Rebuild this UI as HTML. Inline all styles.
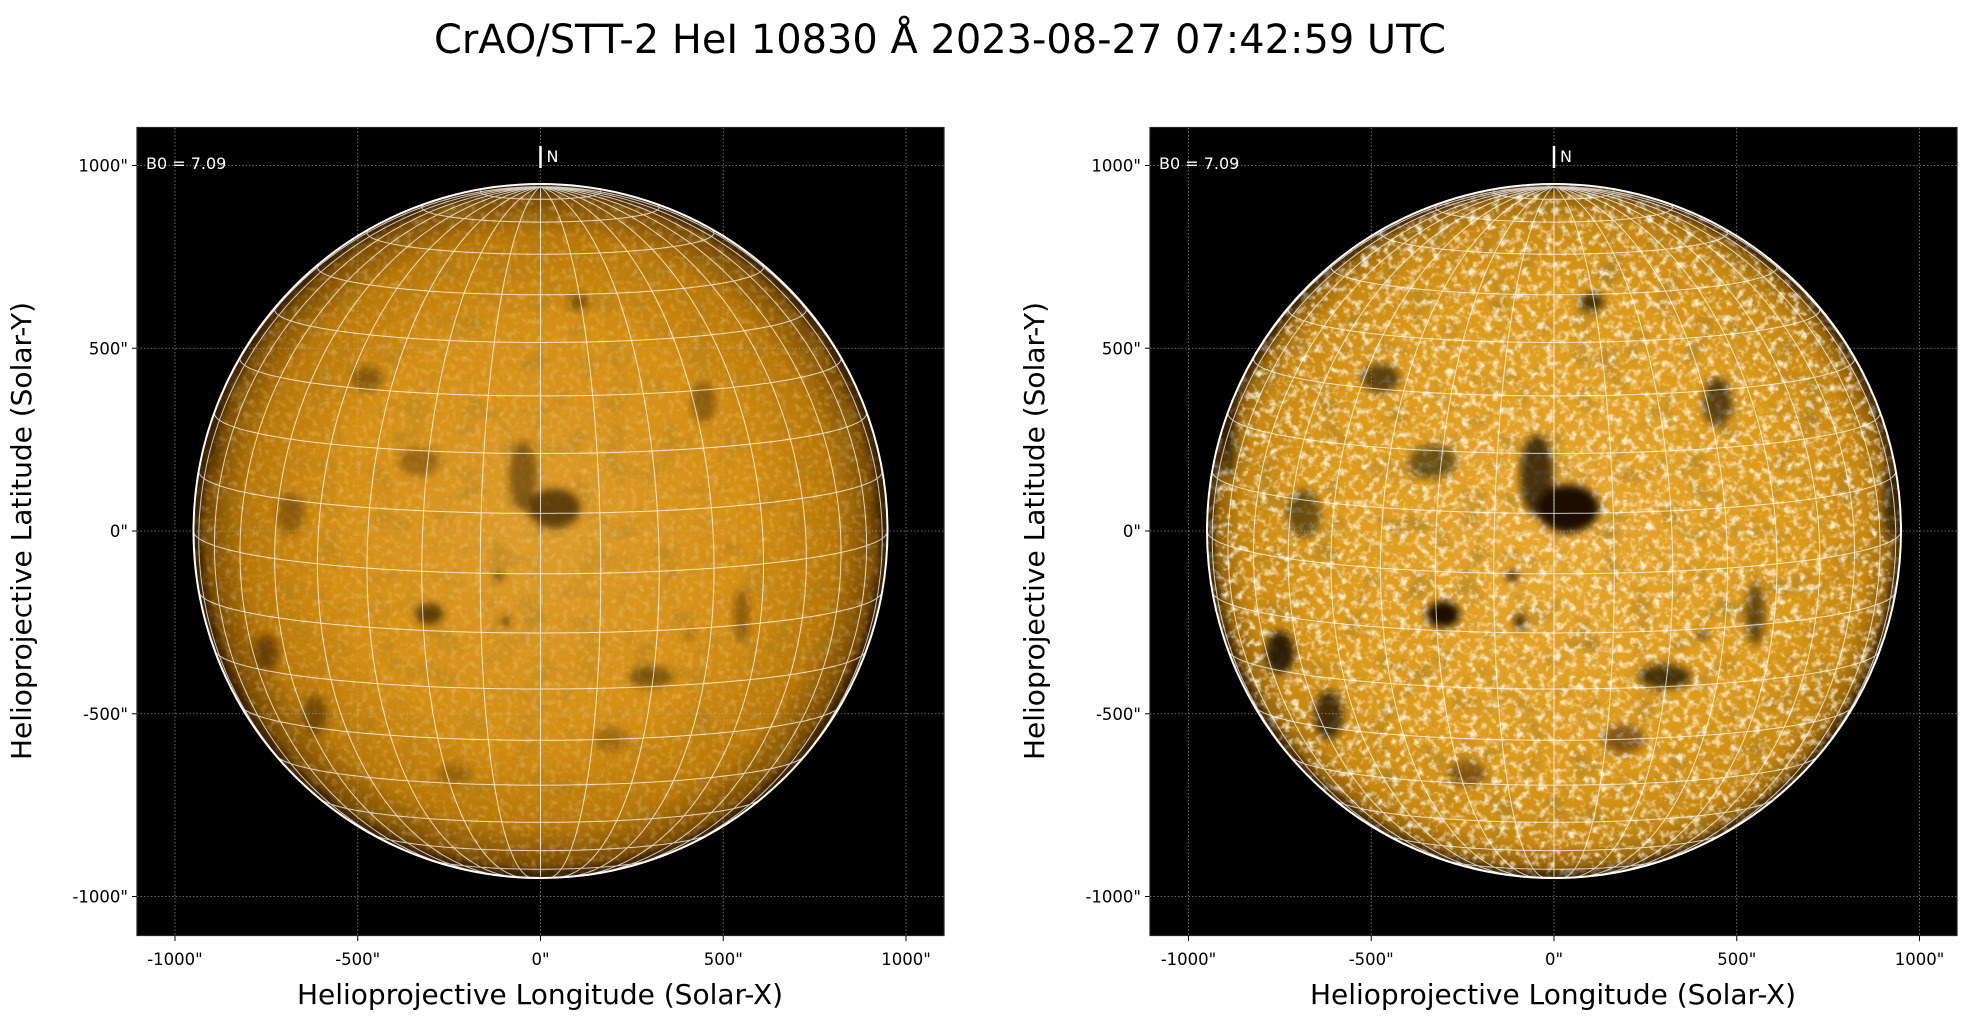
<!DOCTYPE html>
<html><head><meta charset="utf-8"><style>
html,body{margin:0;padding:0;background:#fff;}
svg{display:block;font-family:"DejaVu Sans","Liberation Sans",sans-serif;}
</style></head><body>
<svg id="s" width="1971" height="1026" viewBox="0 0 1971 1026" xmlns="http://www.w3.org/2000/svg">
<defs>
<filter id="noiseL" x="0" y="0" width="100%" height="100%">
<feTurbulence type="fractalNoise" baseFrequency="0.16" numOctaves="2" seed="3"/>
<feColorMatrix type="matrix" values="0 0 0 0 1  0 0 0 0 0.8  0 0 0 0 0.45  1.6 0 0 0 -0.75"/>
</filter>
<filter id="noiseR" x="0" y="0" width="100%" height="100%">
<feTurbulence type="fractalNoise" baseFrequency="0.13" numOctaves="3" seed="7"/>
<feColorMatrix type="matrix" values="0 0 0 0 1  0 0 0 0 0.95  0 0 0 0 0.82  3.0 0 0 0 -1.4"/>
</filter>
<filter id="noiseD" x="0" y="0" width="100%" height="100%">
<feTurbulence type="fractalNoise" baseFrequency="0.035" numOctaves="3" seed="11"/>
<feColorMatrix type="matrix" values="0 0 0 0 0.35  0 0 0 0 0.2  0 0 0 0 0.02  1.8 0 0 0 -0.95"/>
</filter>
<filter id="blur4"><feGaussianBlur stdDeviation="4"/></filter>
<filter id="blur2"><feGaussianBlur stdDeviation="2"/></filter>
<radialGradient id="gL" cx="0.5" cy="0.5" r="0.5">
<stop offset="0" stop-color="#dd9c2c"/><stop offset="0.6" stop-color="#d48f14"/><stop offset="0.85" stop-color="#b87808"/><stop offset="0.96" stop-color="#7a4c02"/><stop offset="1" stop-color="#4a2c00"/>
</radialGradient>
<radialGradient id="gR" cx="0.5" cy="0.5" r="0.5">
<stop offset="0" stop-color="#e8a830"/><stop offset="0.7" stop-color="#dc9a1a"/><stop offset="0.9" stop-color="#c88810"/><stop offset="0.98" stop-color="#8a5a04"/><stop offset="1" stop-color="#553300"/>
</radialGradient>
<clipPath id="cL"><circle cx="540.5" cy="531" r="347"/></clipPath>
<clipPath id="cR"><circle cx="1554" cy="531" r="347"/></clipPath>
</defs>
<text x="940" y="53" font-size="40" text-anchor="middle" textLength="1012" lengthAdjust="spacingAndGlyphs">CrAO/STT-2 HeI 10830 Å 2023-08-27 07:42:59 UTC</text>
<g id="g"></g>
</svg>
<script>
var s=document.getElementById('g');var NS='http://www.w3.org/2000/svg';
function el(t,a,p){var e=document.createElementNS(NS,t);for(var k in a)e.setAttribute(k,a[k]);(p||s).appendChild(e);return e;}
var B0=7.09*Math.PI/180,R=347,K=0.3655;
var feats=[[0.04,0.065,26,20,1],[-0.05,0.16,14,34,0.7],[-0.32,-0.24,14,11,1],[-0.79,-0.35,12,18,0.8],[-0.5,0.44,16,12,0.6],[0.47,0.37,12,20,0.6],[0.32,-0.42,22,10,0.7],[0.58,-0.24,8,26,0.55],[-0.65,-0.53,12,20,0.7],[-0.94,0.26,6,30,0.6],[0.97,0.08,6,30,0.6],[0.11,0.66,10,8,0.7],[-0.12,-0.13,5,4,1],[-0.1,-0.26,4,6,1],[0.43,-0.3,4,3,1],[-0.35,0.2,20,14,0.5],[-0.72,0.05,14,20,0.5],[0.2,-0.6,18,12,0.4],[-0.25,-0.7,16,10,0.4]];
function panel(ax,cx,right){
 var cy=531;
 el('rect',{x:ax,y:127.5,width:807,height:808,fill:'#000',stroke:'#222','stroke-width':1.2});
 var g=el('g',{'clip-path':'url(#'+(right?'cR':'cL')+')'});
 el('circle',{cx:cx,cy:cy,r:R,fill:right?'url(#gR)':'url(#gL)'},g);
 el('rect',{x:cx-R,y:cy-R,width:2*R,height:2*R,filter:'url(#noiseD)',opacity:right?1:0.7},g);
 el('rect',{x:cx-R,y:cy-R,width:2*R,height:2*R,filter:right?'url(#noiseR)':'url(#noiseL)',opacity:right?0.85:0.45},g);
 var fg=el('g',{filter:'url(#blur4)'},g);
 feats.forEach(function(f){el('ellipse',{cx:cx+f[0]*R,cy:cy-f[1]*R,rx:f[2]*(right?1.2:1),ry:f[3]*(right?1.2:1),fill:right?'#1a0c00':'#3a2000',opacity:Math.min(1,f[4]*(right?1.1:0.75))},fg);});
 el('circle',{cx:cx,cy:cy,r:R-3,fill:'none',stroke:'#2a1800','stroke-width':10,opacity:0.55,filter:'url(#blur2)'},g);
 for(var v=-1000;v<=1000;v+=500){
  el('line',{x1:cx+v*K,x2:cx+v*K,y1:128,y2:935,stroke:'#aaa','stroke-width':0.8,'stroke-dasharray':'1.5,2',opacity:0.8});
  el('line',{x1:ax,x2:ax+807,y1:cy-v*K,y2:cy-v*K,stroke:'#aaa','stroke-width':0.8,'stroke-dasharray':'1.5,2',opacity:0.8});
 }
 function P(lat,lon){var p=lat*Math.PI/180,l=lon*Math.PI/180;
  var x=Math.cos(p)*Math.sin(l),y=Math.cos(B0)*Math.sin(p)-Math.sin(B0)*Math.cos(p)*Math.cos(l),z=Math.sin(B0)*Math.sin(p)+Math.cos(B0)*Math.cos(p)*Math.cos(l);
  return [cx+x*R,cy-y*R,z];}
 var d='';
 for(var lon=-90;lon<=90;lon+=10){var st=true;for(var lat=-90;lat<=90;lat+=1){var q=P(lat,lon);if(q[2]<0){st=true;continue;}d+=(st?'M':'L')+q[0].toFixed(1)+','+q[1].toFixed(1);st=false;}}
 for(var lat=-80;lat<=80;lat+=10){var st=true;for(var lon=-100;lon<=100;lon+=1){var q=P(lat,lon);if(q[2]<0){st=true;continue;}d+=(st?'M':'L')+q[0].toFixed(1)+','+q[1].toFixed(1);st=false;}}
 el('path',{d:d,fill:'none',stroke:'#fff','stroke-width':1,opacity:0.75});
 el('circle',{cx:cx,cy:cy,r:R,fill:'none',stroke:'#fff','stroke-width':2});
 el('line',{x1:cx,x2:cx,y1:146,y2:168,stroke:'#fff','stroke-width':2.5});
 el('text',{x:cx+6,y:162,fill:'#fff','font-size':16}).textContent='N';
 el('text',{x:ax+9,y:169,fill:'#fff','font-size':16}).textContent='B0 = 7.09';
 [-1000,-500,0,500,1000].forEach(function(v){
  var x=cx+v*K,y=cy-v*K;
  el('line',{x1:x,x2:x,y1:936,y2:941,stroke:'#000','stroke-width':1});
  el('text',{x:x,y:965,'font-size':16.5,'text-anchor':'middle'}).textContent=v+'"';
  el('line',{x1:ax-5,x2:ax,y1:y,y2:y,stroke:'#000','stroke-width':1});
  el('text',{x:ax-9,y:y+6,'font-size':16.5,'text-anchor':'end'}).textContent=v+'"';
 });
 el('text',{x:ax+403,y:1004,'font-size':28,'text-anchor':'middle'}).textContent='Helioprojective Longitude (Solar-X)';
 el('text',{x:0,y:0,'font-size':28,'text-anchor':'middle',transform:'translate('+(ax-106)+',531) rotate(-90)'}).textContent='Helioprojective Latitude (Solar-Y)';
}
panel(137,540.5,false);
panel(1150,1554,true);
</script>
</body></html>
